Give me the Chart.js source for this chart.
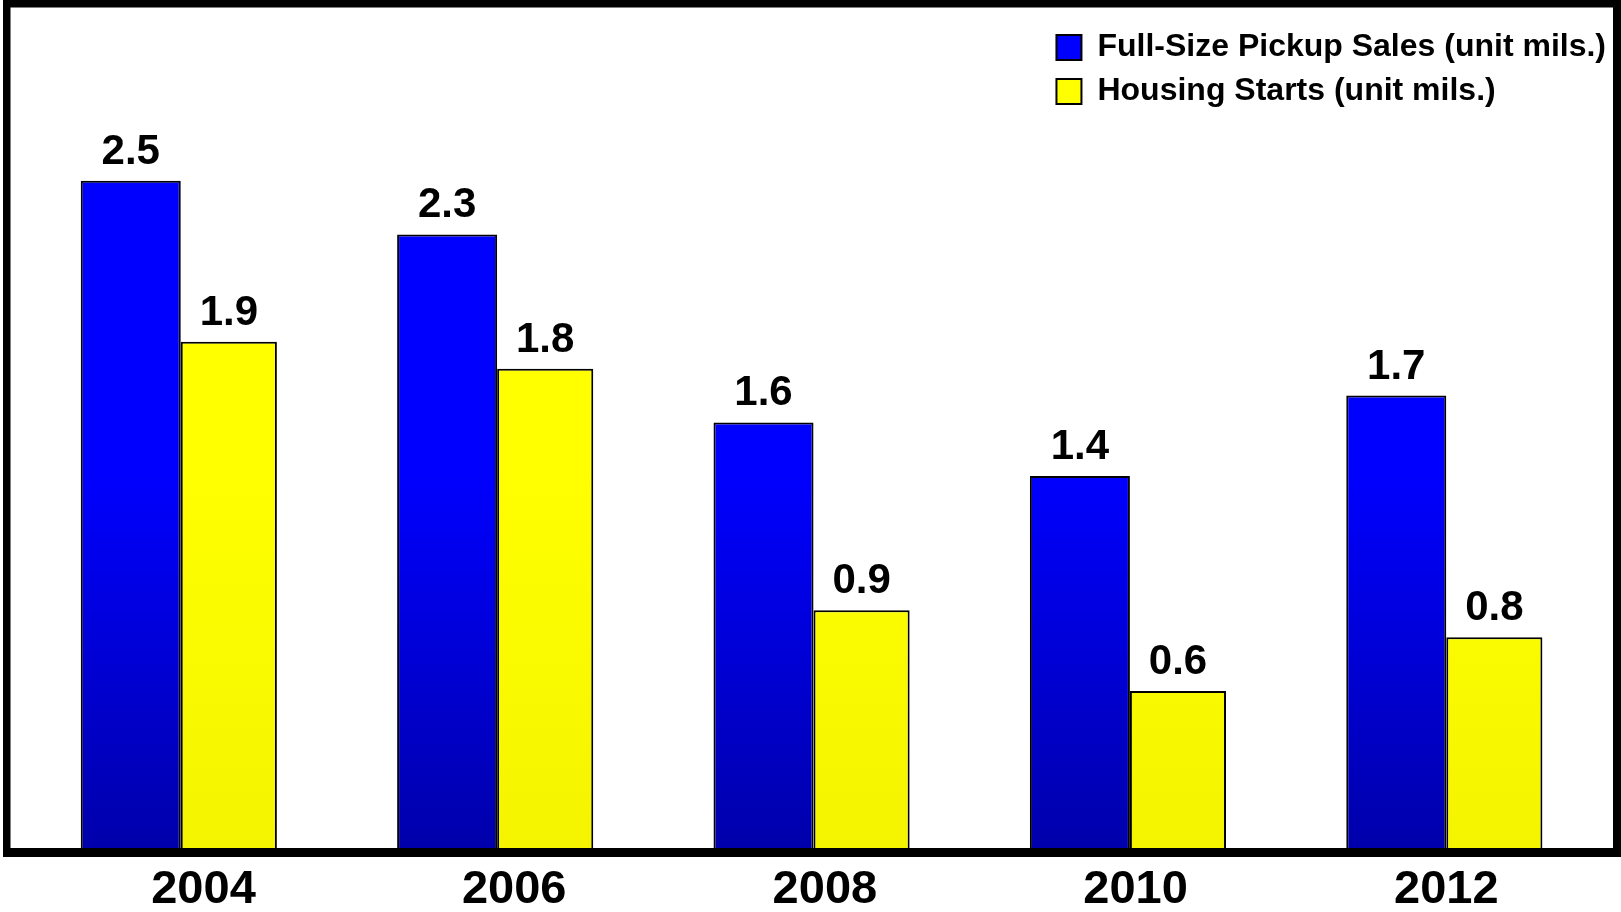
<!DOCTYPE html>
<html>
<head>
<meta charset="utf-8">
<script src="https://cdn.jsdelivr.net/npm/chart.js@4.4.1/dist/chart.umd.min.js"></script>
<style>
  html, body { margin: 0; padding: 0; background: #ffffff; }
  #wrap { width: 1621px; height: 912px; position: relative; }
</style>
</head>
<body>
<div id="wrap"><canvas id="c"></canvas></div>
<script>
// ---- data ----
const categories = ['2004', '2006', '2008', '2010', '2012'];
const pickupSales = [2.5, 2.3, 1.6, 1.4, 1.7];
const housingStarts = [1.9, 1.8, 0.9, 0.6, 0.8];
const seriesNames = ['Full-Size Pickup Sales (unit mils.)', 'Housing Starts (unit mils.)'];

const FONT = '"Liberation Sans", Arial, Helvetica, sans-serif';

function vGrad(topColor, bottomColor) {
  return (ctx) => {
    const chart = ctx.chart;
    const ca = chart.chartArea;
    if (!ca) return topColor;
    const g = chart.ctx.createLinearGradient(0, ca.top, 0, ca.bottom);
    g.addColorStop(0, topColor);
    g.addColorStop(0.55, topColor);
    g.addColorStop(1, bottomColor);
    return g;
  };
}

const legendPlacer = {
  id: 'legendPlacer',
  afterLayout(chart) {
    const lg = chart.legend;
    const ca = chart.chartArea;
    if (!lg || !ca) return;
    lg.left = ca.right - lg.width + 12.5;
    lg.right = lg.left + lg.width;
    lg.top = 19.5;
    lg.bottom = lg.top + lg.height;
  }
};

const frame = {
  id: 'frame',
  afterDatasetsDraw(chart) {
    const c = chart.ctx;
    const ca = chart.chartArea;
    c.save();
    c.fillStyle = '#000000';
    const L = ca.left - 18.6, R = ca.right + 9.5, T = ca.top - 3.5, B = ca.bottom - 4;
    c.fillRect(L, T, 7.5, B - T + 9);          // left
    c.fillRect(L, T, R - L + 8, 7.5);          // top
    c.fillRect(R, T, 8, B - T + 9);            // right
    c.fillRect(L, B, R - L + 8, 9);            // bottom
    c.restore();
  }
};

const valueLabels = {
  id: 'valueLabels',
  afterDatasetsDraw(chart) {
    const c = chart.ctx;
    c.save();
    c.font = 'bold 42px ' + FONT;
    c.fillStyle = '#000000';
    c.textAlign = 'center';
    c.textBaseline = 'alphabetic';
    chart.data.datasets.forEach((ds, di) => {
      const meta = chart.getDatasetMeta(di);
      meta.data.forEach((el, i) => {
        c.fillText(ds.data[i].toFixed(1), el.x, el.y - 17);
      });
    });
    c.restore();
  }
};

new Chart(document.getElementById('c'), {
  type: 'bar',
  data: {
    labels: categories,
    datasets: [
      {
        label: seriesNames[0],
        data: pickupSales,
        backgroundColor: vGrad('#0000ff', '#0000aa'),
        borderColor: '#000000',
        borderWidth: 2,
        categoryPercentage: 0.62,
        barPercentage: 1.02
      },
      {
        label: seriesNames[1],
        data: housingStarts,
        backgroundColor: vGrad('#ffff00', '#f4f400'),
        borderColor: '#000000',
        borderWidth: 2,
        categoryPercentage: 0.62,
        barPercentage: 0.98
      }
    ]
  },
  options: {
    responsive: true,
    maintainAspectRatio: false,
    animation: false,
    layout: { padding: { left: 21.6, right: 17.5, top: 3.5, bottom: 0 } },
    scales: {
      x: { type: 'category', display: false },
      x2: {
        type: 'linear',
        position: 'bottom',
        offset: false,
        bounds: 'data',
        min: -0.5855,
        max: 4.506,
        afterBuildTicks: (s) => { s.ticks = categories.map((_, i) => ({ value: i })); },
        afterFit: (s) => { s.height = 60; },
        ticks: {
          callback: (v) => categories[v],
          font: { family: FONT, size: 47, weight: 'bold', lineHeight: 1.2 },
          color: '#000000',
          padding: 10,
          maxRotation: 0,
          autoSkip: false
        },
        grid: { display: false, drawTicks: false, offset: false },
        border: { display: false }
      },
      y: { display: false, min: 0, max: 3.16 }
    },
    plugins: {
      legend: {
        position: 'chartArea',
        align: 'start',
        labels: {
          boxWidth: 25,
          boxHeight: 25,
          padding: 12,
          color: '#000000',
          font: { family: FONT, size: 32, weight: 'bold' }
        }
      },
      tooltip: { enabled: false },
      title: { display: false }
    }
  },
  plugins: [legendPlacer, frame, valueLabels]
});
</script>
</body>
</html>
